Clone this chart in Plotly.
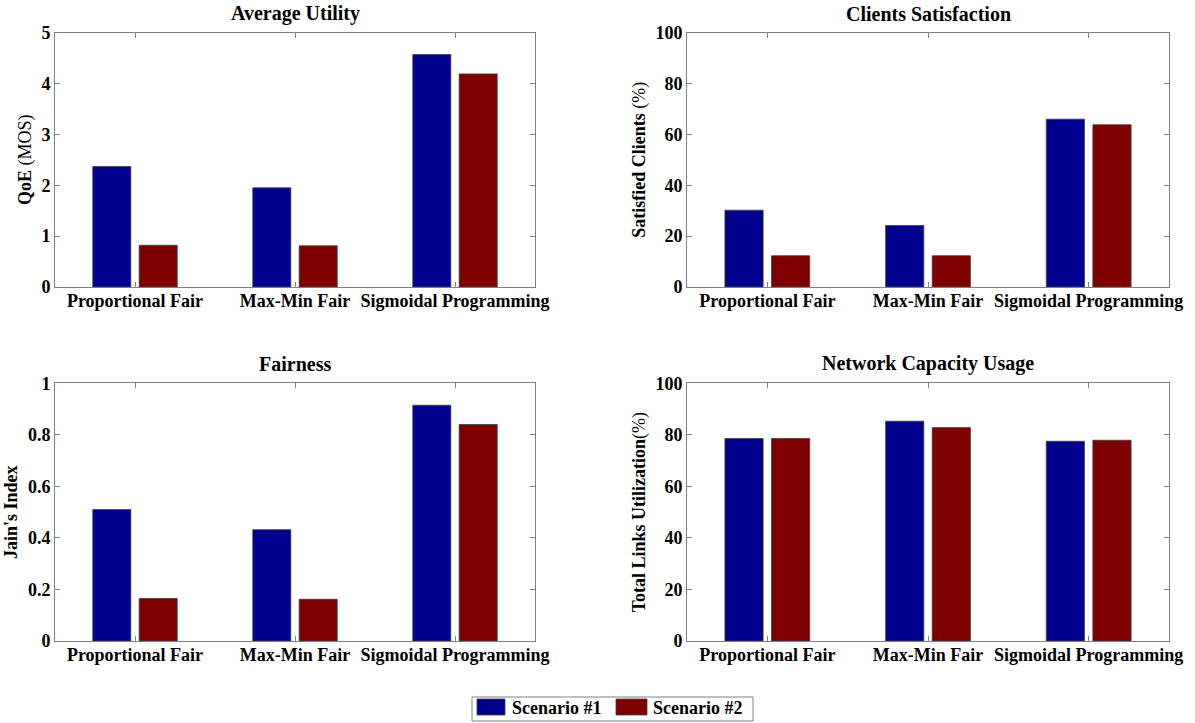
import plotly.graph_objects as go

categories = ["Proportional Fair", "Max-Min Fair", "Sigmoidal Programming"]
series_names = ["Scenario #1", "Scenario #2"]

utility_s1 = [2.37, 1.95, 4.57]
utility_s2 = [0.82, 0.81, 4.19]
satisfaction_s1 = [30.2, 24.2, 66.0]
satisfaction_s2 = [12.3, 12.3, 63.8]
fairness_s1 = [0.51, 0.432, 0.915]
fairness_s2 = [0.165, 0.162, 0.84]
capacity_s1 = [78.6, 85.3, 77.5]
capacity_s2 = [78.6, 82.8, 77.9]

titles = ["Average Utility", "Clients Satisfaction", "Fairness", "Network Capacity Usage"]
ytitles = ["<b>QoE</b> (MOS)", "<b>Satisfied Clients</b> (%)", "<b>Jain's Index</b>",
           "<b>Total Links Utilization</b>(%)"]
yranges = [[0, 5], [0, 100], [0, 1], [0, 100]]
ydticks = [1, 20, 0.2, 20]

colors = ["#00008f", "#7f0000"]
FONT = "'Liberation Serif', 'Times New Roman', serif"

W, H = 1195, 723
xdoms = [[55 / W, 535 / W], [687 / W, 1169 / W]]
ydoms = [[(H - 287) / H, (H - 32.7) / H], [(H - 641) / H, (H - 383.3) / H]]

fig = go.Figure()
data = [(utility_s1, utility_s2), (satisfaction_s1, satisfaction_s2),
        (fairness_s1, fairness_s2), (capacity_s1, capacity_s2)]
xpos = [1, 2, 3]

for i, (s1, s2) in enumerate(data):
    r, c = divmod(i, 2)
    n = "" if i == 0 else str(i + 1)
    for j, vals in enumerate((s1, s2)):
        fig.add_trace(go.Bar(
            x=xpos, y=vals, name=series_names[j],
            marker=dict(color=colors[j], line=dict(color="#404040", width=0.8)),
            xaxis="x" + n, yaxis="y" + n, showlegend=False,
            offsetgroup=str(j),
        ))
    axcommon = dict(showline=True, linecolor="#808080", linewidth=1, mirror="ticks",
                    ticks="inside", ticklen=5, tickcolor="#808080", showgrid=False,
                    zeroline=False, automargin=False,
                    tickfont=dict(family=FONT, size=18, color="black", weight="bold"))
    fig.layout["xaxis" + n] = dict(axcommon, domain=xdoms[c], range=[0.5, 3.5],
                                   tickvals=xpos, ticktext=categories, anchor="y" + n,
                                   ticklabelstandoff=-3)
    fig.layout["yaxis" + n] = dict(axcommon, domain=ydoms[r], range=yranges[i],
                                   dtick=ydticks[i], anchor="x" + n,
                                   title=dict(text=ytitles[i], standoff=5,
                                              font=dict(family=FONT, size=18, color="black")))
    fig.add_annotation(text="<b>" + titles[i] + "</b>", xref="paper", yref="paper",
                       x=(xdoms[c][0] + xdoms[c][1]) / 2, y=ydoms[r][1], yshift=6,
                       xanchor="center", yanchor="bottom", showarrow=False,
                       font=dict(family=FONT, size=20, color="black"))

# custom legend (box, swatches, labels) in paper coordinates
def px(x):
    return x / W


def py(y):
    return (H - y) / H


fig.add_shape(type="rect", xref="paper", yref="paper", x0=px(472), x1=px(753), y0=py(721), y1=py(697),
              line=dict(color="#808080", width=1), fillcolor="white")
legend_items = [(477, 505, 510), (616, 647, 651)]
for j, (sx0, sx1, tx) in enumerate(legend_items):
    fig.add_shape(type="rect", xref="paper", yref="paper", x0=px(sx0), x1=px(sx1), y0=py(715), y1=py(699),
                  line=dict(color="#404040", width=0.8), fillcolor=colors[j])
    fig.add_annotation(text="<b>" + series_names[j] + "</b>", xref="paper", yref="paper",
                       x=px(tx), y=py(707.5), xanchor="left", yanchor="middle", showarrow=False,
                       font=dict(family=FONT, size=18, color="black"))

fig.update_layout(
    width=W, height=H, margin=dict(l=0, r=0, t=0, b=0, autoexpand=False),
    paper_bgcolor="white", plot_bgcolor="white",
    barmode="group", bargap=0.42, bargroupgap=0.18, showlegend=False,
)

fig.write_html("out.html", config={"displayModeBar": False},
               post_script="document.body.style.margin='0';")
